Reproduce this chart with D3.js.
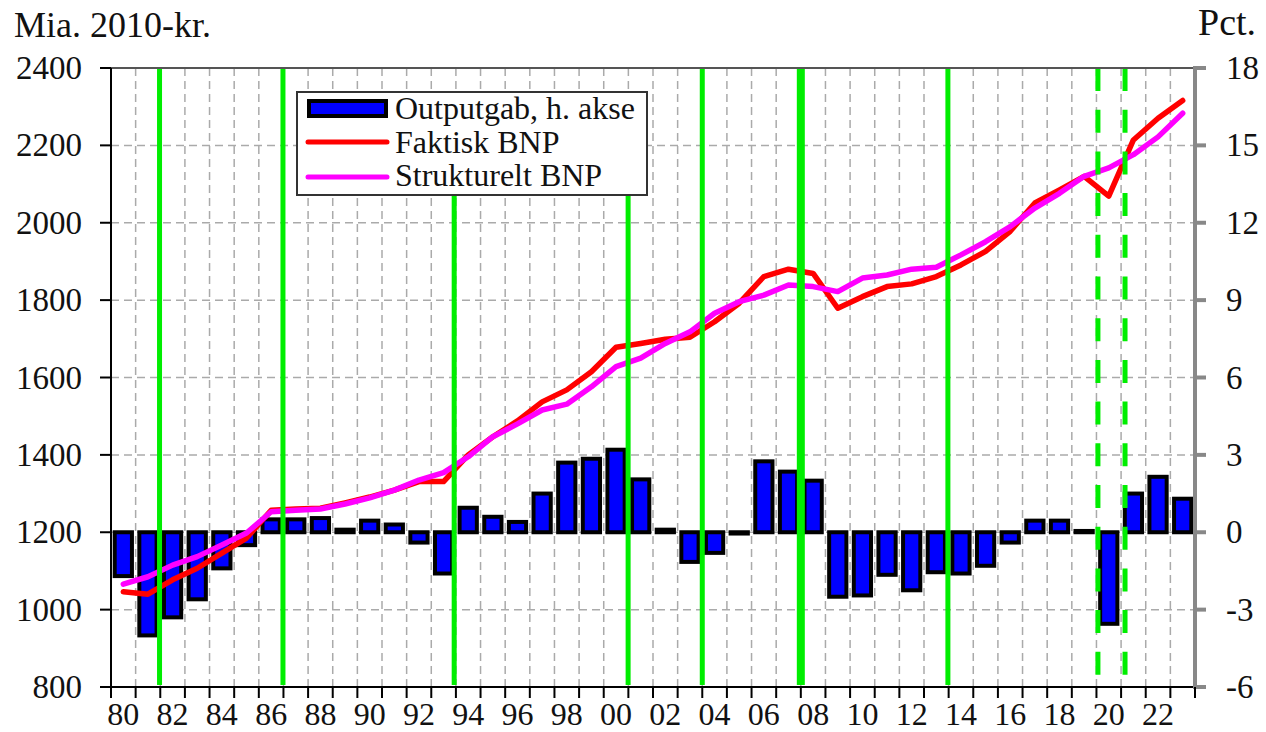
<!DOCTYPE html>
<html lang="da">
<head>
  <meta charset="UTF-8">
  <title>Outputgab og BNP</title>
  <script src="https://d3js.org/d3.v7.min.js"></script>
  <style>
    body { margin: 0; background: #fff; }
    svg { display: block; font-family: "Liberation Serif", "Times New Roman", serif; }
    .grid { stroke: #aaa; stroke-width: 1.5; stroke-dasharray: 8 5; }
  </style>
</head>
<body>
  <svg id="chart" width="1266" height="732"></svg>

  <script>
    // data
    const years = [1980, 1981, 1982, 1983, 1984, 1985, 1986, 1987, 1988, 1989,
                   1990, 1991, 1992, 1993, 1994, 1995, 1996, 1997, 1998, 1999,
                   2000, 2001, 2002, 2003, 2004, 2005, 2006, 2007, 2008, 2009,
                   2010, 2011, 2012, 2013, 2014, 2015, 2016, 2017, 2018, 2019,
                   2020, 2021, 2022, 2023];

    // Outputgab, pct. (right axis)
    const outputGap = [-1.7, -4.0, -3.3, -2.6, -1.4, -0.5, 0.5, 0.5, 0.55, 0.1,
                       0.45, 0.3, -0.4, -1.6, 0.95, 0.6, 0.4, 1.5, 2.7, 2.85,
                       3.2, 2.05, 0.1, -1.15, -0.8, -0.05, 2.75, 2.35, 2.0, -2.5,
                       -2.45, -1.65, -2.25, -1.55, -1.6, -1.3, -0.4, 0.45, 0.45, 0.05,
                       -3.55, 1.5, 2.15, 1.3];

    // Faktisk BNP, mia. 2010-kr.
    const actualGdp = [1046, 1040, 1077, 1107, 1146, 1185, 1257, 1260, 1262, 1276,
                       1291, 1309, 1331, 1331, 1400, 1447, 1488, 1537, 1568, 1615,
                       1678, 1688, 1699, 1704, 1744, 1792, 1861, 1880, 1869, 1779,
                       1809, 1835, 1842, 1861, 1891, 1926, 1978, 2051, 2085, 2120,
                       2069, 2214, 2270, 2316];

    // Strukturelt BNP, mia. 2010-kr.
    const structGdp = [1066, 1085, 1115, 1137, 1167, 1198, 1253, 1257, 1260, 1273,
                       1289, 1309, 1335, 1354, 1395, 1447, 1480, 1516, 1531, 1576,
                       1628, 1650, 1688, 1718, 1766, 1796, 1813, 1839, 1835, 1822,
                       1857, 1865, 1880, 1885, 1917, 1951, 1990, 2038, 2076, 2120,
                       2142, 2176, 2222, 2283];

    // green markers (year fraction) and how high they reach (left axis units)
    const markerYears = [1981.97, 1986.98, 1993.93, 2000.99, 2004.0, 2008.0, 2013.97];
    const markerTops  = [2400, 2400, 2072, 2072, 2400, 2400, 2400];
    const dashedMarkerYears = [2020.06, 2021.16];

    const leftTicks = [800, 1000, 1200, 1400, 1600, 1800, 2000, 2200, 2400];
    const rightTicks = [-6, -3, 0, 3, 6, 9, 12, 15, 18];

    const legendItems = ["Outputgab, h. akse", "Faktisk BNP", "Strukturelt BNP"];

    const svg = d3.select("#chart");
    const pLeft = 111, pRight = 1195, pTop = 68, pBottom = 687;

    const x = d3.scaleBand().domain(years).range([pLeft, pRight])
                .paddingInner(0.3).paddingOuter(0.15);
    const xYear = d3.scaleLinear().domain([1980, 2024]).range([pLeft, pRight]);
    const yL = d3.scaleLinear().domain([800, 2400]).range([pBottom, pTop]);
    const yR = d3.scaleLinear().domain([-6, 18]).range([pBottom, pTop]);

    // grid
    const bounds = d3.range(1981, 2024);
    svg.append("g").selectAll("line").data(bounds).enter().append("line")
       .attr("class", "grid")
       .attr("x1", d => xYear(d)).attr("x2", d => xYear(d))
       .attr("y1", pTop).attr("y2", pBottom);
    svg.append("g").selectAll("line").data(leftTicks.slice(1, -1)).enter().append("line")
       .attr("class", "grid")
       .attr("x1", pLeft).attr("x2", pRight)
       .attr("y1", d => yL(d)).attr("y2", d => yL(d));

    // bars
    svg.append("g").selectAll("rect").data(years).enter().append("rect")
       .attr("x", d => x(d))
       .attr("width", x.bandwidth())
       .attr("y", (d, i) => yR(Math.max(0, outputGap[i])))
       .attr("height", (d, i) => Math.abs(yR(outputGap[i]) - yR(0)))
       .attr("fill", "#0000ff")
       .attr("stroke", "#000")
       .attr("stroke-width", 4);

    // lines
    const cx = d => x(d) + x.bandwidth() / 2;
    const lineL = vals => d3.line().x(cx).y((d, i) => yL(vals[i]))(years);
    svg.append("path").attr("d", lineL(actualGdp))
       .attr("fill", "none").attr("stroke", "#ff0000").attr("stroke-width", 5.5)
       .attr("stroke-linejoin", "round").attr("stroke-linecap", "round");
    svg.append("path").attr("d", lineL(structGdp))
       .attr("fill", "none").attr("stroke", "#ff00ff").attr("stroke-width", 5.5)
       .attr("stroke-linejoin", "round").attr("stroke-linecap", "round");

    // green markers
    svg.append("g").selectAll("line").data(markerYears).enter().append("line")
       .attr("x1", d => xYear(d)).attr("x2", d => xYear(d))
       .attr("y1", (d, i) => yL(markerTops[i])).attr("y2", pBottom - 2)
       .attr("stroke", "#00ee00")
       .attr("stroke-width", d => d === 2008 ? 8 : 5);
    svg.append("g").selectAll("line").data(dashedMarkerYears).enter().append("line")
       .attr("x1", d => xYear(d)).attr("x2", d => xYear(d))
       .attr("y1", pTop).attr("y2", pBottom - 12)
       .attr("stroke", "#00ee00")
       .attr("stroke-width", 5)
       .attr("stroke-dasharray", "23 18.7");

    // frame / axes
    svg.append("line").attr("x1", pLeft).attr("x2", pRight).attr("y1", pTop).attr("y2", pTop)
       .attr("stroke", "#555").attr("stroke-width", 2);
    svg.append("line").attr("x1", pLeft).attr("x2", pLeft).attr("y1", pTop).attr("y2", pBottom)
       .attr("stroke", "#000").attr("stroke-width", 2);
    svg.append("line").attr("x1", pLeft - 10).attr("x2", pRight + 1).attr("y1", pBottom).attr("y2", pBottom)
       .attr("stroke", "#000").attr("stroke-width", 2);
    svg.append("line").attr("x1", pRight).attr("x2", pRight).attr("y1", pTop - 2).attr("y2", pBottom + 2)
       .attr("stroke", "#888").attr("stroke-width", 4);

    // left ticks
    svg.append("g").selectAll("line").data(leftTicks).enter().append("line")
       .attr("x1", pLeft - 11).attr("x2", pLeft)
       .attr("y1", d => yL(d)).attr("y2", d => yL(d))
       .attr("stroke", "#000").attr("stroke-width", 2);
    svg.append("g").selectAll("text").data(leftTicks).enter().append("text")
       .attr("x", 82).attr("y", d => yL(d) + 11)
       .attr("text-anchor", "end").attr("font-size", 33).attr("fill", "#111")
       .text(d => d);

    // right ticks
    svg.append("g").selectAll("line").data(rightTicks).enter().append("line")
       .attr("x1", pRight).attr("x2", pRight + 11)
       .attr("y1", d => yR(d)).attr("y2", d => yR(d))
       .attr("stroke", "#888").attr("stroke-width", 4);
    svg.append("g").selectAll("text").data(rightTicks).enter().append("text")
       .attr("x", 1226).attr("y", d => yR(d) + 11)
       .attr("font-size", 33).attr("fill", "#111")
       .text(d => d);

    // bottom ticks and labels
    svg.append("g").selectAll("line").data(d3.range(1980, 2025)).enter().append("line")
       .attr("x1", d => xYear(d)).attr("x2", d => xYear(d))
       .attr("y1", pBottom).attr("y2", pBottom + 11)
       .attr("stroke", "#000").attr("stroke-width", 2);
    svg.append("g").selectAll("text").data(years.filter(d => d % 2 === 0)).enter().append("text")
       .attr("x", cx).attr("y", 725)
       .attr("text-anchor", "middle").attr("font-size", 32).attr("fill", "#111")
       .text(d => String(d % 100).padStart(2, "0"));

    // axis titles
    svg.append("text").attr("x", 14).attr("y", 37).attr("font-size", 36).attr("fill", "#111")
       .text("Mia. 2010-kr.");
    svg.append("text").attr("x", 1198).attr("y", 35).attr("font-size", 38).attr("fill", "#111")
       .text("Pct.");

    // legend
    const lg = svg.append("g");
    lg.append("rect").attr("x", 297).attr("y", 92).attr("width", 350).attr("height", 103)
      .attr("fill", "#fff").attr("stroke", "#333").attr("stroke-width", 2);
    lg.append("rect").attr("x", 309).attr("y", 101).attr("width", 77).attr("height", 15)
      .attr("fill", "#0000ff").attr("stroke", "#000").attr("stroke-width", 4);
    lg.append("line").attr("x1", 308).attr("x2", 387).attr("y1", 142).attr("y2", 142)
      .attr("stroke", "#ff0000").attr("stroke-width", 5).attr("stroke-linecap", "round");
    lg.append("line").attr("x1", 308).attr("x2", 387).attr("y1", 177).attr("y2", 177)
      .attr("stroke", "#ff00ff").attr("stroke-width", 5).attr("stroke-linecap", "round");
    lg.selectAll("text").data(legendItems).enter().append("text")
      .attr("x", 395).attr("y", (d, i) => 119 + i * 33.5)
      .attr("font-size", 32).attr("fill", "#111")
      .text(d => d);
  </script>
</body>
</html>
